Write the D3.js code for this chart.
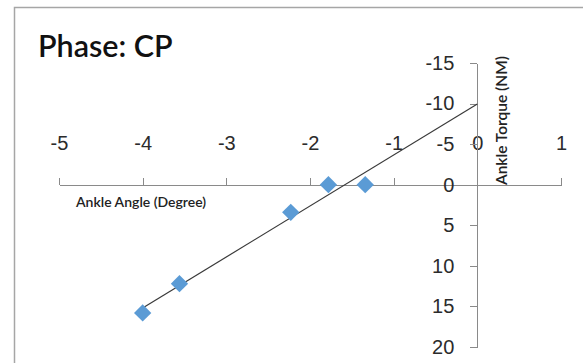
<!DOCTYPE html>
<html>
<head>
<meta charset="utf-8">
<script src="https://cdn.jsdelivr.net/npm/d3@7"></script>
<style>
  html, body { margin: 0; padding: 0; background: #fff; }
  svg { display: block; font-family: Lato, "Open Sans", sans-serif; }
  .axis path, .axis line { stroke: #8a8a8a; stroke-width: 1; shape-rendering: crispEdges; }
  .axis text { fill: #2b2b2b; }
</style>
</head>
<body>
<svg id="chart" width="583" height="363"></svg>
<script>
// Ankle angle (degrees) vs ankle torque (NM), CP phase
const angle  = [-4.0, -3.56, -2.23, -1.78, -1.34];
const torque = [15.8, 12.2, 3.4, 0.0, 0.0];

const xTicks = [-5, -4, -3, -2, -1, 0, 1];
const yTicks = [-15, -10, -5, 0, 5, 10, 15, 20];

const title = "Phase: CP";
const xTitle = "Ankle Angle (Degree)";
const yTitle = "Ankle Torque (NM)";

// linear trendline is extended forward to this angle
const trendForecastTo = 0;

// plain hyphen-minus labels
const fmt = d => String(d);

const svg = d3.select("#chart");

// outer chart border (right and bottom edges run off the canvas)
svg.append("rect")
  .attr("x", 14.5).attr("y", 7.5)
  .attr("width", 620).attr("height", 400)
  .attr("fill", "none")
  .attr("stroke", "#a6a6a6")
  .attr("stroke-width", 1.5);

const x = d3.scaleLinear().domain([-5, 1]).range([59, 561]);
const y = d3.scaleLinear().domain([-15, 20]).range([63, 347]); // torque axis reversed

// horizontal axis crosses at torque = 0, labels sit above
svg.append("g")
  .attr("class", "axis")
  .attr("transform", `translate(0,${y(0)})`)
  .call(d3.axisTop(x).tickValues(xTicks).tickSizeInner(7).tickSizeOuter(0).tickPadding(28)
    .tickFormat(fmt))
  .call(g => g.selectAll("text").attr("font-size", 20));

// vertical axis crosses at angle = 0
svg.append("g")
  .attr("class", "axis")
  .attr("transform", `translate(${x(0)},0)`)
  .call(d3.axisLeft(y).tickValues(yTicks).tickSizeInner(7).tickSizeOuter(0).tickPadding(16)
    .tickFormat(fmt))
  .call(g => g.selectAll("text").attr("font-size", 20));

// least-squares trendline
const mx = d3.mean(angle), my = d3.mean(torque);
const sxy = d3.sum(angle, (a, i) => (a - mx) * (torque[i] - my));
const sxx = d3.sum(angle, a => (a - mx) * (a - mx));
const slope = sxy / sxx;
const intercept = my - slope * mx;
const trendX = [d3.min(angle), trendForecastTo];

svg.append("line")
  .attr("x1", x(trendX[0])).attr("y1", y(intercept + slope * trendX[0]))
  .attr("x2", x(trendX[1])).attr("y2", y(intercept + slope * trendX[1]))
  .attr("stroke", "#3a3a3a")
  .attr("stroke-width", 1.2);

// diamond markers
const diamond = d3.symbol().type(d3.symbolSquare).size(150);
svg.append("g")
  .selectAll("path")
  .data(angle.map((a, i) => [a, torque[i]]))
  .join("path")
  .attr("d", diamond)
  .attr("transform", d => `translate(${x(d[0])},${y(d[1])}) rotate(45)`)
  .attr("fill", "#5b9bd5");

// titles
svg.append("text")
  .attr("x", 38).attr("y", 57)
  .attr("font-size", 30.5)
  .attr("font-weight", 600)
  .attr("fill", "#111")
  .text(title);

svg.append("text")
  .attr("x", 76).attr("y", 207)
  .attr("font-size", 14)
  .attr("font-weight", 600)
  .attr("fill", "#222")
  .text(xTitle);

svg.append("text")
  .attr("transform", `translate(507,185) rotate(-90)`)
  .attr("font-size", 14.5)
  .attr("font-weight", 600)
  .attr("fill", "#222")
  .attr("textLength", 129)
  .attr("lengthAdjust", "spacingAndGlyphs")
  .text(yTitle);
</script>
</body>
</html>
